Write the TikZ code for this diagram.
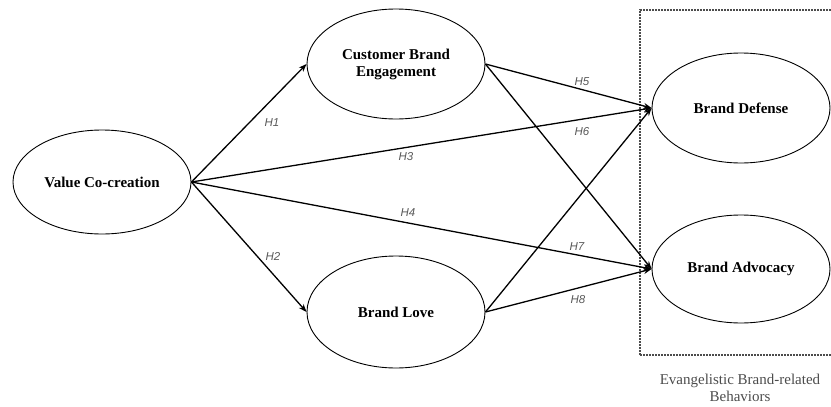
\documentclass[tikz,border=0pt]{standalone}
\usepackage{fontspec}
\setmainfont{Liberation Serif}
\newfontfamily\labelfont{Liberation Sans}
\usetikzlibrary{shapes.geometric,arrows.meta}

\tikzset{
  construct/.style={draw=black, line width=0.9pt, ellipse, inner sep=0pt,
    minimum width=178pt, minimum height=108pt, align=center,
    font=\fontsize{15}{17}\selectfont\bfseries},
  path/.style={draw=black, line width=1.3pt,
    -{Stealth[length=8pt,width=6pt]}},
  hyp/.style={font=\labelfont\itshape\fontsize{11.5}{13}\selectfont, text=black!65},
}

\begin{document}
\begin{tikzpicture}[x=1pt, y=-1pt]
  \useasboundingbox (0,0) rectangle (831,407);

  % grouping frame for the outcome constructs
  \draw[black!70, line width=1.2pt, dash pattern=on 1.8pt off 1.2pt]
    (640,355) -- (640,10) -- (835,10);
  \draw[black!70, line width=1.2pt, dash pattern=on 1.8pt off 1.2pt]
    (640,355) -- (835,355);
  \node[text=black!70, align=center, font=\fontsize{15}{16.5}\selectfont]
    (group) at (740,388) {Evangelistic Brand-related\\Behaviors};

  % constructs
  \node[construct, minimum height=104pt] (vc)  at (102,182) {Value Co-creation};
  \node[construct, minimum height=110pt] (cbe) at (396,64)  {Customer Brand\\Engagement};
  \node[construct, minimum height=112pt] (bl)  at (396,312) {Brand Love};
  \node[construct, minimum height=110pt] (bd)  at (741,108) {Brand Defense};
  \node[construct, minimum height=108pt] (ba)  at (741,269) {Brand Advocacy};

  % hypothesised paths
  \draw[path] (vc.east) -- (cbe.west);
  \draw[path] (vc.east) -- (bl.west);
  \draw[path] (vc.east) -- (bd.west);
  \draw[path] (vc.east) -- (ba.west);
  \draw[path] (cbe.east) -- (bd.west);
  \draw[path] (cbe.east) -- (ba.west);
  \draw[path] (bl.east) -- (bd.west);
  \draw[path] (bl.east) -- (ba.west);

  % path labels
  \node[hyp] (h1) at (272,123) {H1};
  \node[hyp] (h2) at (273,256) {H2};
  \node[hyp] (h3) at (406,157) {H3};
  \node[hyp] (h4) at (408,213) {H4};
  \node[hyp] (h5) at (582,82)  {H5};
  \node[hyp] (h6) at (582,132) {H6};
  \node[hyp] (h7) at (577,247) {H7};
  \node[hyp] (h8) at (578,300) {H8};
\end{tikzpicture}
\end{document}
